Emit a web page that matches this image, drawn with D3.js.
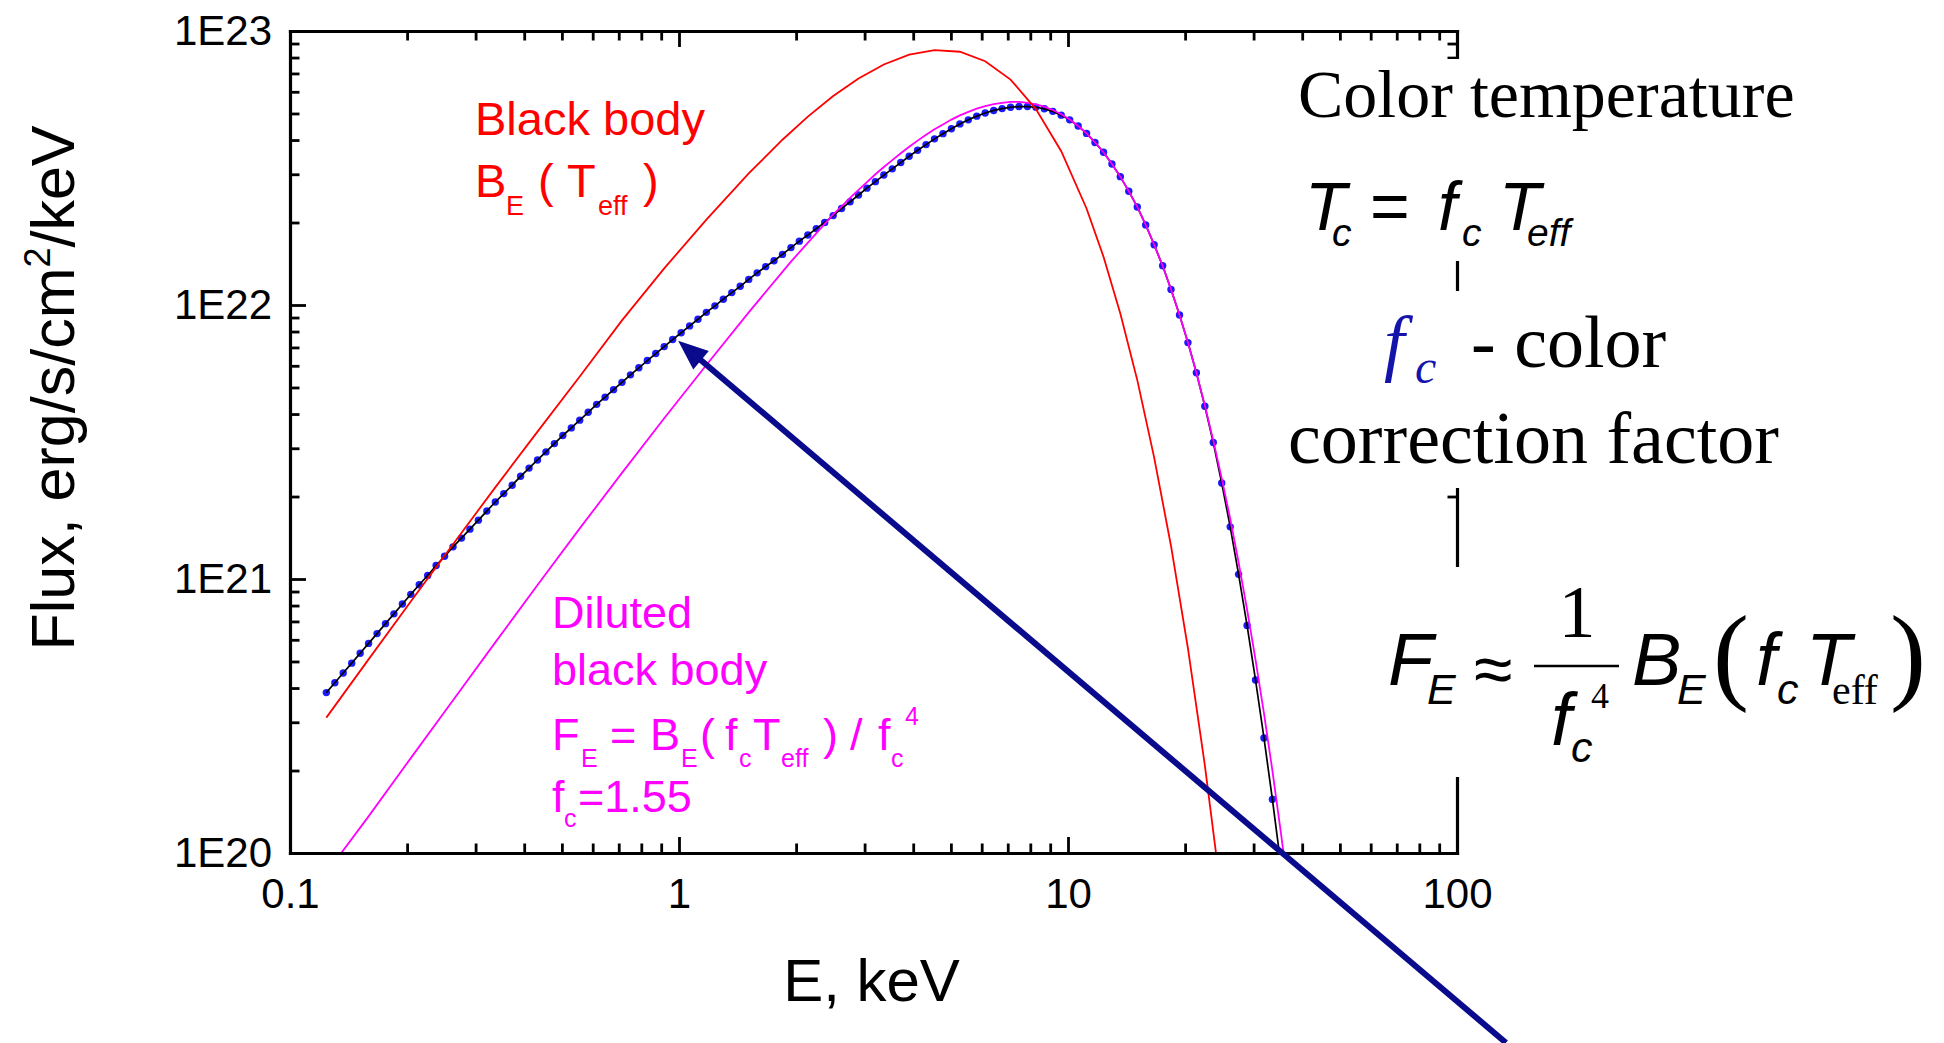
<!DOCTYPE html>
<html>
<head>
<meta charset="utf-8">
<script src="https://cdnjs.cloudflare.com/ajax/libs/d3/7.8.5/d3.min.js"></script>
<style>
  html, body { margin: 0; padding: 0; background: #fff; }
  svg { display: block; }
  text { white-space: pre; }
</style>
</head>
<body>
<svg id="chart" width="1944" height="1043"></svg>
<script>
// ---- Axis ticks ----
const xMajorTicks = [0.1, 1, 10, 100];
const xTickLabels = ["0.1", "1", "10", "100"];
const yMajorTicks = [1e20, 1e21, 1e22, 1e23];
const yTickLabels = ["1E20", "1E21", "1E22", "1E23"];

// ---- Model atmosphere spectrum (black line with blue points), E in keV ----
const energyModel = [
  0.1240, 0.1304, 0.1370, 0.1441, 0.1515, 0.1592, 0.1674, 0.1760, 0.1850, 0.1945,
  0.2044, 0.2149, 0.2259, 0.2375, 0.2497, 0.2625, 0.2760, 0.2901, 0.3050, 0.3206,
  0.3371, 0.3544, 0.3725, 0.3916, 0.4117, 0.4328, 0.4550, 0.4783, 0.5028, 0.5286,
  0.5557, 0.5842, 0.6142, 0.6457, 0.6788, 0.7136, 0.7502, 0.7886, 0.8291, 0.8716,
  0.9162, 0.9632, 1.013, 1.065, 1.119, 1.176, 1.237, 1.300, 1.367, 1.437,
  1.511, 1.588, 1.670, 1.755, 1.845, 1.940, 2.039, 2.144, 2.254, 2.369,
  2.491, 2.618, 2.753, 2.894, 3.042, 3.198, 3.362, 3.534, 3.716, 3.906,
  4.106, 4.317, 4.538, 4.771, 5.015, 5.273, 5.543, 5.827, 6.126, 6.440,
  6.770, 7.117, 7.482, 7.866, 8.269, 8.693, 9.139, 9.607, 10.10, 10.62,
  11.16, 11.73, 12.34, 12.97, 13.63, 14.33, 15.07, 15.84, 16.65, 17.51,
  18.40, 19.35, 20.34, 21.38, 22.48, 23.63, 24.84, 26.12, 27.45, 28.86,
  30.34, 31.90, 33.53, 35.25
];
const fluxModel = [
  3.85e20, 4.18e20, 4.54e20, 4.93e20, 5.36e20, 5.82e20, 6.32e20, 6.87e20, 7.46e20, 8.11e20,
  8.79e20, 9.53e20, 1.03e21, 1.12e21, 1.21e21, 1.31e21, 1.41e21, 1.52e21, 1.64e21, 1.77e21,
  1.91e21, 2.05e21, 2.20e21, 2.37e21, 2.54e21, 2.72e21, 2.91e21, 3.12e21, 3.34e21, 3.56e21,
  3.80e21, 4.06e21, 4.34e21, 4.61e21, 4.91e21, 5.22e21, 5.56e21, 5.90e21, 6.27e21, 6.65e21,
  7.05e21, 7.48e21, 7.92e21, 8.39e21, 8.87e21, 9.40e21, 9.93e21, 1.05e22, 1.11e22, 1.17e22,
  1.24e22, 1.31e22, 1.38e22, 1.45e22, 1.53e22, 1.62e22, 1.71e22, 1.80e22, 1.90e22, 2.00e22,
  2.12e22, 2.25e22, 2.38e22, 2.52e22, 2.67e22, 2.82e22, 2.98e22, 3.14e22, 3.31e22, 3.49e22,
  3.67e22, 3.85e22, 4.04e22, 4.22e22, 4.40e22, 4.58e22, 4.74e22, 4.89e22, 5.02e22, 5.13e22,
  5.21e22, 5.27e22, 5.30e22, 5.30e22, 5.27e22, 5.20e22, 5.09e22, 4.93e22, 4.74e22, 4.50e22,
  4.23e22, 3.92e22, 3.61e22, 3.27e22, 2.94e22, 2.60e22, 2.28e22, 1.96e22, 1.66e22, 1.39e22,
  1.14e22, 9.20e21, 7.29e21, 5.66e21, 4.27e21, 3.15e21, 2.24e21, 1.55e21, 1.04e21, 6.77e20,
  4.28e20, 2.63e20, 1.57e20, 9.06e19
];

// ---- Diluted black body, fc = 1.55 (magenta) ----
const energyDiluted = [
  0.1240, 0.1592, 0.2044, 0.2625, 0.3371, 0.4328, 0.5557, 0.7136, 0.9162, 1.176, 1.511, 1.940,
  2.491, 2.618, 2.753, 2.894, 3.042, 3.198, 3.362, 3.534, 3.716, 3.906,
  4.106, 4.317, 4.538, 4.771, 5.015, 5.273, 5.543, 5.827, 6.126, 6.440,
  6.770, 7.117, 7.482, 7.866, 8.269, 8.693, 9.139, 9.607, 10.10, 10.62,
  11.16, 11.73, 12.34, 12.97, 13.63, 14.33, 15.07, 15.84, 16.65, 17.51,
  18.40, 19.35, 20.34, 21.38, 22.48, 23.63, 24.84, 26.12, 27.45, 28.86,
  30.34, 31.90, 33.53, 35.25, 37.06
];
const fluxDiluted = [
  8.45e19, 1.36e20, 2.22e20, 3.61e20, 5.87e20, 9.51e20, 1.53e21, 2.44e21, 3.86e21, 6.04e21, 9.40e21, 1.44e22,
  2.14e22, 2.29e22, 2.46e22, 2.63e22, 2.81e22, 3.00e22, 3.19e22, 3.38e22, 3.58e22, 3.78e22,
  3.98e22, 4.18e22, 4.38e22, 4.56e22, 4.75e22, 4.92e22, 5.07e22, 5.21e22, 5.32e22, 5.41e22,
  5.47e22, 5.51e22, 5.51e22, 5.47e22, 5.40e22, 5.30e22, 5.15e22, 4.97e22, 4.75e22, 4.50e22,
  4.23e22, 3.92e22, 3.61e22, 3.27e22, 2.94e22, 2.60e22, 2.28e22, 1.96e22, 1.66e22, 1.39e22,
  1.14e22, 9.20e21, 7.29e21, 5.66e21, 4.30e21, 3.20e21, 2.33e21, 1.66e21, 1.15e21, 7.74e20,
  5.08e20, 3.23e20, 2.00e20, 1.19e20, 6.90e19
];

// ---- Black body B_E(T_eff) (red) ----
const energyBlackbody = [
  0.1240, 0.1592, 0.2044, 0.2625, 0.3371, 0.4328, 0.5557, 0.7136, 0.9162, 1.176, 1.511,
  1.845, 2.144, 2.491, 2.894, 3.362, 3.906, 4.538, 5.273, 6.126, 7.117, 8.269, 9.607,
  11.16, 12.34, 13.63, 15.07, 16.65, 18.40, 20.34, 22.48, 24.84
];
const fluxBlackbody = [
  3.12e20, 5.09e20, 8.28e20, 1.34e21, 2.16e21, 3.45e21, 5.48e21, 8.79e21, 1.36e22, 2.05e22, 3.02e22,
  4.01e22, 4.87e22, 5.79e22, 6.71e22, 7.55e22, 8.20e22, 8.52e22, 8.40e22, 7.76e22, 6.65e22, 5.19e22, 3.64e22,
  2.25e22, 1.50e22, 9.31e21, 5.32e21, 2.78e21, 1.32e21, 5.58e20, 2.09e20, 6.85e19
];

// Arrow pointing at the model spectrum near 1 keV: [E, flux] of tip and tail
const arrowTip = [0.995, 7.4e21];
const arrowTail = [133.6, 2.03e19];

// ---------------------------------------------------------------
const SANS = "'Liberation Sans', Arial, Helvetica, sans-serif";
const SERIF = "'Liberation Serif', 'Times New Roman', Times, serif";
const RED = "#ff0000", MAGENTA = "#ff00ff", NAVY = "#0a0a8c", DOT = "#1a1aff";

const svg = d3.select("#chart");
const x = d3.scaleLog().domain([0.1, 100]).range([290, 1457]);
const y = d3.scaleLog().domain([1e20, 1e23]).range([853, 31]);
const [x0, x1] = x.range();
const [y1, y0] = y.range();

svg.append("defs").append("clipPath").attr("id", "plot-clip")
  .append("rect").attr("x", x0).attr("y", y0).attr("width", x1 - x0).attr("height", y1 - y0);

// ---- curves ----
const plot = svg.append("g").attr("clip-path", "url(#plot-clip)");
const line = d3.line().x(d => x(d[0])).y(d => y(d[1]));
const model = d3.zip(energyModel, fluxModel);
const diluted = d3.zip(energyDiluted, fluxDiluted);
const blackbody = d3.zip(energyBlackbody, fluxBlackbody);

plot.selectAll("circle.pt").data(model).join("circle")
  .attr("class", "pt")
  .attr("cx", d => x(d[0])).attr("cy", d => y(d[1]))
  .attr("r", 3.7).attr("fill", DOT);
plot.append("path").datum(model).attr("d", line)
  .attr("fill", "none").attr("stroke", "#000").attr("stroke-width", 1.7);
plot.append("path").datum(diluted).attr("d", line)
  .attr("fill", "none").attr("stroke", MAGENTA).attr("stroke-width", 1.8);
plot.append("path").datum(blackbody).attr("d", line)
  .attr("fill", "none").attr("stroke", RED).attr("stroke-width", 1.8);

// ---- axes (ticks pointing inwards on all four sides) ----
const isMajor = d => Math.abs(Math.log10(d) - Math.round(Math.log10(d))) < 1e-9;
const MAJOR = 16, MINOR = 9.5;
const labelFor = (ticks, labels) => d => {
  const k = ticks.findIndex(v => Math.abs(v - d) / v < 1e-9);
  return k >= 0 ? labels[k] : "";
};

function finishAxis(g, attr, sign) {
  g.attr("font-family", SANS).attr("font-size", 42);
  g.select(".domain").attr("stroke-width", 3.2).attr("stroke-linecap", "square");
  g.selectAll(".tick line").attr("stroke-width", 2.8)
    .attr(attr, d => sign * (isMajor(d) ? MAJOR : MINOR));
  g.selectAll(".tick text").attr("fill", "#000");
}

const gBottom = svg.append("g").attr("transform", `translate(0,${y1})`)
  .call(d3.axisBottom(x).tickValues(x.ticks()).tickSizeInner(-MAJOR).tickSizeOuter(0)
    .tickPadding(25).tickFormat(labelFor(xMajorTicks, xTickLabels)));
finishAxis(gBottom, "y2", -1);

const gTop = svg.append("g").attr("transform", `translate(0,${y0})`)
  .call(d3.axisTop(x).tickValues(x.ticks()).tickSizeInner(-MAJOR).tickSizeOuter(0).tickFormat(""));
finishAxis(gTop, "y2", 1);

const gLeft = svg.append("g").attr("transform", `translate(${x0},0)`)
  .call(d3.axisLeft(y).tickValues(y.ticks()).tickSizeInner(-MAJOR).tickSizeOuter(0)
    .tickPadding(18).tickFormat(labelFor(yMajorTicks, yTickLabels)));
finishAxis(gLeft, "x2", 1);

const gRight = svg.append("g").attr("transform", `translate(${x1},0)`)
  .call(d3.axisRight(y).tickValues(y.ticks()).tickSizeInner(-MAJOR).tickSizeOuter(0).tickFormat(""));
finishAxis(gRight, "x2", -1);

// ---- axis titles ----
svg.append("text")
  .attr("x", (x0 + x1) / 2 - 2).attr("y", 1001)
  .attr("text-anchor", "middle").attr("font-family", SANS).attr("font-size", 60)
  .text("E, keV");

const yTitle = svg.append("text")
  .attr("transform", "translate(74,388) rotate(-90)")
  .attr("text-anchor", "middle").attr("font-family", SANS).attr("font-size", 61);
yTitle.append("tspan").text("Flux, erg/s/cm");
yTitle.append("tspan").attr("font-size", 36).attr("dy", -24).text("2");
yTitle.append("tspan").attr("dy", 24).text("/keV");

// ---- text helper: [string, x, baseline, size, extra attributes] ----
function pieces(g, items, common) {
  items.forEach(([t, px, py, size, extra]) => {
    const el = g.append("text").attr("x", px).attr("y", py).attr("font-size", size).text(t);
    Object.entries(Object.assign({}, common, extra || {})).forEach(([k, v]) => el.attr(k, v));
  });
}

// ---- curve labels inside the plot ----
const notes = svg.append("g");
pieces(notes, [
  ["Black body", 475, 135, 47],
  ["B", 475, 197, 47],
  ["E", 506, 215, 27],
  ["(", 538, 197, 47],
  ["T", 567, 197, 47],
  ["eff", 598, 215, 27],
  [")", 643, 197, 47]
], { "font-family": SANS, fill: RED });

pieces(notes, [
  ["Diluted", 552, 628, 45],
  ["black body", 552, 685, 45],
  ["F", 552, 750, 45],
  ["E", 581, 767, 25],
  ["=", 610, 750, 45],
  ["B", 650, 750, 45],
  ["E", 681, 767, 25],
  ["(", 700, 750, 45],
  ["f", 725, 750, 45],
  ["c", 739, 767, 25],
  ["T", 753, 750, 45],
  ["eff", 781, 767, 25],
  [")", 823, 750, 45],
  ["/", 850, 750, 45],
  ["f", 878, 750, 45],
  ["c", 891, 767, 25],
  ["4", 905, 725, 25],
  ["f", 552, 812, 45],
  ["c", 564, 827, 25],
  ["=1.55", 578, 812, 45]
], { "font-family": SANS, fill: MAGENTA });

// ---- explanation column on the right (boxes mask the frame behind) ----
const side = svg.append("g");
[[1285, 59, 525, 202], [1280, 291, 510, 197], [1380, 567, 556, 210]].forEach(([bx, by, bw, bh]) =>
  side.append("rect").attr("x", bx).attr("y", by).attr("width", bw).attr("height", bh).attr("fill", "#fff"));

pieces(side, [["Color temperature", 1298, 117, 68]], { "font-family": SERIF, fill: "#000" });

pieces(side, [
  ["T", 1305, 230, 68],
  ["c", 1332, 246, 39],
  ["=", 1369, 230, 68],
  ["f", 1438, 230, 68],
  ["c", 1462, 246, 39],
  ["T", 1499, 230, 68],
  ["eff", 1527, 246, 39]
], { "font-family": SANS, "font-style": "italic", fill: "#000" });

pieces(side, [
  ["f", 1384, 367, 74],
  ["c", 1415, 383, 48]
], { "font-family": SERIF, "font-style": "italic", fill: "#1414aa" });
pieces(side, [
  ["- color", 1471, 367, 74],
  ["correction factor", 1288, 463, 74]
], { "font-family": SERIF, fill: "#000" });

// F_E ≈ B_E(fc Teff) / fc^4
pieces(side, [
  ["F", 1388, 685, 74],
  ["E", 1427, 704, 43],
  ["B", 1632, 685, 74],
  ["E", 1677, 704, 43],
  ["f", 1756, 685, 74],
  ["c", 1777, 704, 43],
  ["T", 1806, 685, 74],
  ["f", 1551, 745, 74],
  ["c", 1571, 762, 43]
], { "font-family": SANS, "font-style": "italic", fill: "#000" });
pieces(side, [["\u2248", 1474, 693, 70]], { "font-family": SANS, fill: "#000" });
pieces(side, [
  ["1", 1577, 637, 74, { "text-anchor": "middle" }],
  ["4", 1591, 708, 36],
  ["(", 1713, 690, 108],
  ["eff", 1832, 704, 42],
  [")", 1890, 690, 108]
], { "font-family": SERIF, fill: "#000" });
side.append("line").attr("x1", 1534).attr("x2", 1619).attr("y1", 666).attr("y2", 666)
  .attr("stroke", "#000").attr("stroke-width", 2.5);

// ---- arrow ----
const tip = [x(arrowTip[0]), y(arrowTip[1])];
const tail = [x(arrowTail[0]), y(arrowTail[1])];
const len = Math.hypot(tail[0] - tip[0], tail[1] - tip[1]);
const ux = (tail[0] - tip[0]) / len, uy = (tail[1] - tip[1]) / len;
const headLen = 30, headHalf = 12;
const base = [tip[0] + ux * headLen, tip[1] + uy * headLen];
svg.append("line")
  .attr("x1", base[0] - ux * 2).attr("y1", base[1] - uy * 2)
  .attr("x2", tail[0]).attr("y2", tail[1])
  .attr("stroke", NAVY).attr("stroke-width", 6);
svg.append("path")
  .attr("d", `M${tip[0]},${tip[1]}L${base[0] - uy * headHalf},${base[1] + ux * headHalf}` +
             `L${base[0] + uy * headHalf},${base[1] - ux * headHalf}Z`)
  .attr("fill", NAVY);
</script>
</body>
</html>
